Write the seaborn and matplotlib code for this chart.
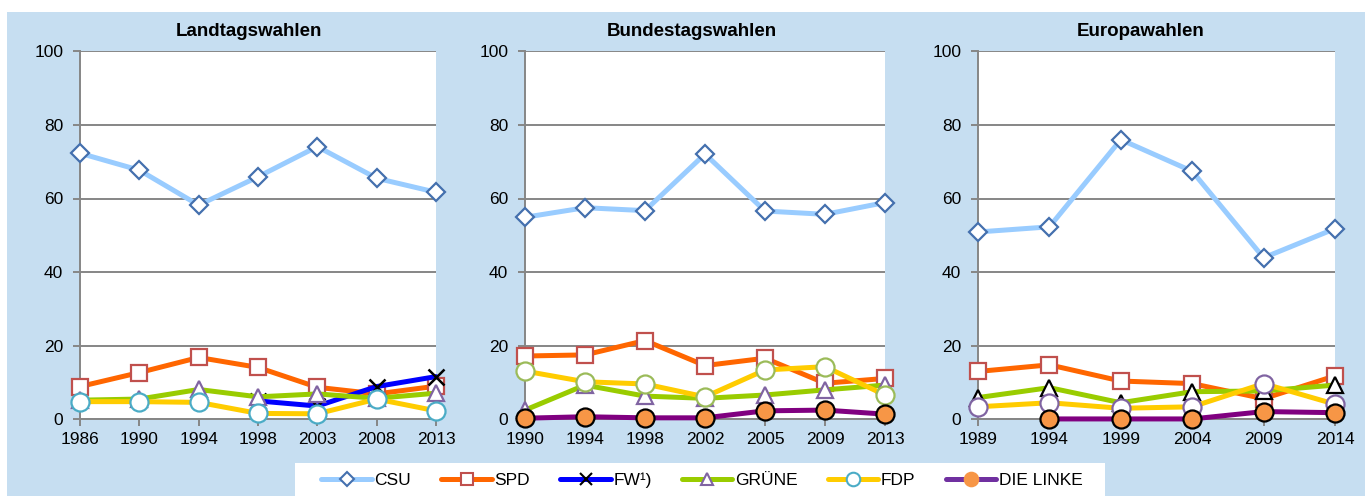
import numpy as np
import pandas as pd
import matplotlib
matplotlib.use("Agg")
import matplotlib.pyplot as plt
from matplotlib.lines import Line2D
from matplotlib.patches import Rectangle
import seaborn as sns

sns.set_style("white")
plt.rcParams['font.family'] = ['Liberation Sans Narrow', 'Liberation Sans', 'DejaVu Sans']
plt.rcParams['text.color'] = 'black'
plt.rcParams['xtick.color'] = 'black'
plt.rcParams['ytick.color'] = 'black'

nan = np.nan

# ---- Data ----
titles = ["Landtagswahlen", "Bundestagswahlen", "Europawahlen"]

years_lt = ["1986", "1990", "1994", "1998", "2003", "2008", "2013"]
csu_lt = [72.3, 67.7, 58.2, 65.9, 74.1, 65.5, 61.7]
spd_lt = [8.9, 12.7, 16.8, 14.1, 8.7, 6.9, 9.0]
fw_lt = [nan, nan, nan, 5.0, 3.6, 8.9, 11.6]
gruene_lt = [5.2, 5.5, 8.1, 6.1, 6.9, 5.7, 7.1]
fdp_lt = [4.8, 4.8, 4.6, 1.6, 1.5, 5.5, 2.3]
linke_lt = [nan] * 7

years_bt = ["1990", "1994", "1998", "2002", "2005", "2009", "2013"]
csu_bt = [54.9, 57.5, 56.7, 72.1, 56.6, 55.7, 58.9]
spd_bt = [17.2, 17.5, 21.4, 14.6, 16.6, 9.8, 11.1]
fw_bt = [nan] * 7
gruene_bt = [2.5, 9.3, 6.3, 5.7, 6.6, 8.0, 9.3]
fdp_bt = [13.1, 10.2, 9.6, 6.1, 13.4, 14.3, 6.6]
linke_bt = [0.3, 0.7, 0.4, 0.4, 2.3, 2.5, 1.4]

years_eu = ["1989", "1994", "1999", "2004", "2009", "2014"]
csu_eu = [50.9, 52.3, 76.0, 67.4, 43.9, 51.8]
spd_eu = [13.0, 14.8, 10.4, 9.7, 5.6, 11.8]
fw_eu = [nan] * 6
gruene_eu = [5.9, 8.6, 4.5, 7.5, 7.7, 9.3]
fdp_eu = [3.4, 4.5, 3.0, 3.4, 9.7, 4.1]
linke_eu = [nan, 0.1, 0.1, 0.1, 2.1, 1.8]

parties = ["CSU", "SPD", "FW¹)", "GRÜNE", "FDP", "DIE LINKE"]

panels = [
    (years_lt, [csu_lt, spd_lt, fw_lt, gruene_lt, fdp_lt, linke_lt]),
    (years_bt, [csu_bt, spd_bt, fw_bt, gruene_bt, fdp_bt, linke_bt]),
    (years_eu, [csu_eu, spd_eu, fw_eu, gruene_eu, fdp_eu, linke_eu]),
]

# ---- Styles ----
line_colors = ["#99CCFF", "#FF6600", "#0000FF", "#99CC00", "#FFCC00", "#800080"]
markers = ["D", "s", "x", "^", "o", "o"]
msizes = [9, 12, 12, 11, 13, 13]
mfaces = ["white", "white", "black", "white", "white", "#F79646"]
medges = [
    ["#4470AE", "#C0504D", "black", "#8064A2", "#4BACC6", "black"],
    ["#4470AE", "#C0504D", "black", "#8064A2", "#9BBB59", "black"],
    ["#4470AE", "#C0504D", "black", "black", "#8064A2", "black"],
]
draw_order = [
    [0, 1, 2, 3, 4, 5],
    [0, 1, 2, 4, 3, 5],
    [0, 1, 2, 3, 4, 5],
]

W, H = 1365, 496
fig = plt.figure(figsize=(W / 100, H / 100), dpi=100, facecolor="white")

# light blue chart background
bg = Rectangle((7 / W, 0), 1 - 7 / W, (H - 12) / H, transform=fig.transFigure,
               facecolor="#C6DEF1", edgecolor="none", zorder=-10)
fig.patches.append(bg)
# white legend box
lb = Rectangle((295 / W, 0), (1105 - 295) / W, (H - 463) / H, transform=fig.transFigure,
               facecolor="white", edgecolor="none", zorder=-9)
fig.patches.append(lb)

ax_px = [(80, 356), (525, 360), (978, 357)]
title_x = [249, 692, 1141]
top_px, bot_px = 51.3, 419.3
grid_c = "#868686"

for i, ((years, series), (lx, wx)) in enumerate(zip(panels, ax_px)):
    ax = fig.add_axes([lx / W, (H - bot_px) / H, wx / W, (bot_px - top_px) / H], zorder=1)
    ax.set_facecolor("white")
    xs = np.arange(len(years))
    for k in draw_order[i]:
        vals = series[k]
        if np.all(np.isnan(vals)):
            continue
        df = pd.DataFrame({"x": xs, "y": vals}).dropna()
        sns.lineplot(data=df, x="x", y="y", ax=ax, color=line_colors[k], lw=3.6,
                     marker=markers[k], ms=msizes[k], markerfacecolor=mfaces[k],
                     mec=medges[i][k], mew=1.6 if markers[k] != "x" else 1.8,
                     clip_on=False, zorder=3 + k, legend=False)
    ax.set_xlim(0, len(years) - 1)
    ax.set_ylim(0, 100)
    ax.set_yticks([0, 20, 40, 60, 80, 100])
    ax.set_xticks(xs)
    ax.set_xticklabels(years)
    ax.set_xlabel("")
    ax.set_ylabel("")
    ax.grid(axis="y", color=grid_c, lw=1.4)
    ax.grid(axis="x", visible=False)
    ax.set_axisbelow(True)
    for s in ["top", "right"]:
        ax.spines[s].set_visible(False)
    for s in ["left", "bottom"]:
        ax.spines[s].set_color(grid_c)
        ax.spines[s].set_linewidth(1.4)
    ax.tick_params(axis="both", direction="out", length=5, width=1.4,
                   color=grid_c, labelsize=12.5, labelcolor="black",
                   bottom=True, left=True)
    ax.tick_params(axis="y", pad=7)
    ax.tick_params(axis="x", pad=4)
    fig.text(title_x[i] / W, 1 - 31 / H, titles[i], ha="center", va="center",
             fontsize=13.5, fontweight="bold", color="black",
             family=["Liberation Sans", "DejaVu Sans"])

# legend
leg_edges = ["#4470AE", "#C0504D", "black", "#8064A2", "#4BACC6", "#F79646"]
leg_lines = ["#99CCFF", "#FF6600", "#0000FF", "#99CC00", "#FFCC00", "#7030A0"]
handles = []
for k in range(6):
    handles.append(Line2D([0], [0], color=leg_lines[k], lw=3.6, marker=markers[k],
                          ms=msizes[k] * 0.75, markerfacecolor=mfaces[k],
                          mec=leg_edges[k], mew=1.5))
leg = fig.legend(handles, parties, loc="center", bbox_to_anchor=(702 / W, 1 - 480 / H),
                 ncol=6, frameon=False, fontsize=12.5, handlelength=2.9,
                 handletextpad=0.15, columnspacing=1.75, borderpad=0.5)
for t in leg.get_texts():
    t.set_color("black")

fig.savefig("out.png", dpi=100, facecolor="white")
